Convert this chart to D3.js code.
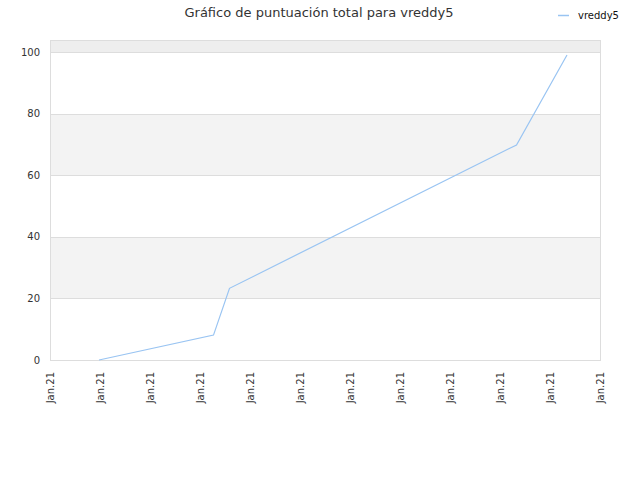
<!DOCTYPE html>
<html>
<head>
<meta charset="utf-8">
<script src="https://cdn.jsdelivr.net/npm/d3@7"></script>
<style>
  body { margin: 0; background: #fff; }
  text { font-family: "DejaVu Sans", sans-serif; }
</style>
</head>
<body>
<svg id="chart" width="640" height="480"></svg>
<script>
var width = 640;
var height = 480;

// data
var playerName = "vreddy5";
var xTicks = [0, 1, 2, 3, 4, 5, 6, 7, 8, 9, 10, 11];
var xTickLabels = ["Jan.21", "Jan.21", "Jan.21", "Jan.21", "Jan.21", "Jan.21",
                   "Jan.21", "Jan.21", "Jan.21", "Jan.21", "Jan.21", "Jan.21"];
var xValues = [0.98, 3.27, 3.59, 9.33, 10.34];
var scores = [0, 8.1, 23.3, 69.9, 99.1];
var yTicks = [0, 20, 40, 60, 80, 100];

var margin = { top: 40, right: 40, bottom: 120, left: 50 };

var x = d3.scaleLinear()
    .domain([0, 11])
    .range([margin.left, width - margin.right]);

var y = d3.scaleLinear()
    .domain([0, 104])
    .range([height - margin.bottom, margin.top]);

var svg = d3.select("#chart");

// alternating bands
var bands = [];
for (var i = 0; i < yTicks.length; i++) {
    var lo = yTicks[i];
    var hi = i + 1 < yTicks.length ? yTicks[i + 1] : y.domain()[1];
    bands.push({ lo: lo, hi: hi, i: i });
}

svg.append("g")
    .selectAll("rect")
    .data(bands)
    .join("rect")
    .attr("x", x.range()[0])
    .attr("width", x.range()[1] - x.range()[0])
    .attr("y", d => y(d.hi))
    .attr("height", d => y(d.lo) - y(d.hi))
    .attr("fill", d => d.i === yTicks.length - 1 ? "#eeeeee" : (d.i % 2 ? "#f3f3f3" : "#ffffff"));

// grid lines
svg.append("g")
    .selectAll("line")
    .data(yTicks)
    .join("line")
    .attr("x1", x.range()[0])
    .attr("x2", x.range()[1])
    .attr("y1", d => Math.round(y(d)) + 0.5)
    .attr("y2", d => Math.round(y(d)) + 0.5)
    .attr("stroke", "#dddddd");

// frame
svg.append("rect")
    .attr("x", x.range()[0] + 0.5)
    .attr("y", y.range()[1] + 0.5)
    .attr("width", x.range()[1] - x.range()[0])
    .attr("height", y.range()[0] - y.range()[1])
    .attr("fill", "none")
    .attr("stroke", "#dddddd");

// y axis labels
svg.append("g")
    .selectAll("text")
    .data(yTicks)
    .join("text")
    .attr("x", x.range()[0] - 10)
    .attr("y", d => y(d))
    .attr("dy", "0.35em")
    .attr("text-anchor", "end")
    .attr("font-size", 10)
    .attr("fill", "#333")
    .text(d => d);

// x axis labels
svg.append("g")
    .selectAll("text")
    .data(xTicks)
    .join("text")
    .attr("transform", d => `translate(${x(d)},${y.range()[0] + 12}) rotate(-90)`)
    .attr("dy", "0.35em")
    .attr("text-anchor", "end")
    .attr("font-size", 10)
    .attr("fill", "#333")
    .text((d, i) => xTickLabels[i]);

// line
var line = d3.line()
    .x(d => x(d[0]))
    .y(d => y(d[1]));

svg.append("path")
    .datum(d3.zip(xValues, scores))
    .attr("fill", "none")
    .attr("stroke", "#99c4f2")
    .attr("stroke-width", 1.2)
    .attr("d", line);

// title
svg.append("text")
    .attr("x", 319)
    .attr("y", 17)
    .attr("text-anchor", "middle")
    .attr("font-size", 13)
    .attr("fill", "#333")
    .text("Gráfico de puntuación total para " + playerName);

// legend
var legend = svg.append("g").attr("transform", "translate(558,15)");
legend.append("line")
    .attr("x1", 0).attr("x2", 11)
    .attr("y1", 0.5).attr("y2", 0.5)
    .attr("stroke", "#99c4f2")
    .attr("stroke-width", 1.5);
legend.append("text")
    .attr("x", 20)
    .attr("y", 0)
    .attr("dy", "0.35em")
    .attr("font-size", 10)
    .attr("fill", "#111")
    .text(playerName);
</script>
</body>
</html>
